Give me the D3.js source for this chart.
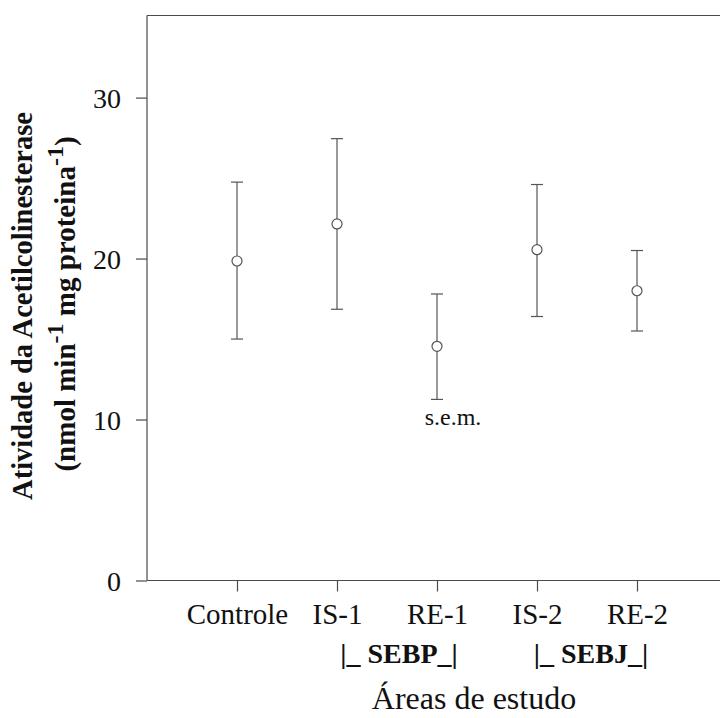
<!DOCTYPE html>
<html>
<head>
<meta charset="utf-8">
<script src="https://cdn.jsdelivr.net/npm/d3@7"></script>
<style>
  body { margin: 0; background: #fff; }
  svg { display: block; }
</style>
</head>
<body>
<div id="chart"></div>
<script>
// values
const categories = ["Controle", "IS-1", "RE-1", "IS-2", "RE-2"];
const means = [19.85, 22.15, 14.55, 20.55, 18.0];
const lower = [15.0, 16.85, 11.25, 16.4, 15.5];
const upper = [24.75, 27.45, 17.8, 24.6, 20.5];
const yTicks = [0, 10, 20, 30];
const groups = [
    {label: "|_ SEBP_|", at: 1.62},
    {label: "|_ SEBJ_|", at: 3.54}
];

const font = "'Liberation Serif', 'Times New Roman', serif";
const width = 720, height = 718;
const plot = {left: 147, top: 15.5, bottom: 580.5, right: 730};

const svg = d3.select("#chart").append("svg")
    .attr("width", width)
    .attr("height", height);

const y = d3.scaleLinear().domain([0, 35.1]).range([plot.bottom, plot.top]);
const x = d3.scaleLinear().domain([-0.9, 4.93]).range([plot.left, plot.right]);

const axisColor = "#4a4a4a";

// y axis
const yAxis = svg.append("g")
    .attr("transform", `translate(${plot.left},0)`)
    .call(d3.axisLeft(y).tickValues(yTicks).tickSize(11).tickPadding(15));
yAxis.select(".domain").attr("stroke", axisColor).attr("stroke-width", 1.2)
    .attr("d", `M0,${plot.top}V${plot.bottom}`);
yAxis.selectAll(".tick line").attr("stroke", axisColor).attr("stroke-width", 1.2);
yAxis.selectAll(".tick text")
    .attr("font-family", font).attr("font-size", 28).attr("fill", "#111")
    .attr("dy", "0.34em");

// x axis
const xAxis = svg.append("g")
    .attr("transform", `translate(0,${plot.bottom})`)
    .call(d3.axisBottom(x).tickValues(d3.range(categories.length))
        .tickFormat(i => categories[i]).tickSize(11).tickPadding(12));
xAxis.select(".domain").attr("stroke", axisColor).attr("stroke-width", 1.2)
    .attr("d", `M${plot.left},0H${width}`);
xAxis.selectAll(".tick line").attr("stroke", axisColor).attr("stroke-width", 1.2);
xAxis.selectAll(".tick text")
    .attr("font-family", font).attr("font-size", 29).attr("fill", "#111")
    .attr("dy", "0.7em");

// top frame line
svg.append("line")
    .attr("x1", plot.left).attr("x2", width)
    .attr("y1", plot.top).attr("y2", plot.top)
    .attr("stroke", axisColor).attr("stroke-width", 1.2);

// error bars
const bars = svg.append("g")
    .selectAll("g")
    .data(categories.map((c, i) => ({c, i, m: means[i], lo: lower[i], hi: upper[i]})))
    .join("g")
    .attr("stroke", "#555")
    .attr("stroke-width", 1.2)
    .attr("fill", "none");

bars.append("line")
    .attr("x1", d => x(d.i)).attr("x2", d => x(d.i))
    .attr("y1", d => y(d.lo)).attr("y2", d => y(d.hi));
bars.append("line")
    .attr("x1", d => x(d.i) - 6).attr("x2", d => x(d.i) + 6)
    .attr("y1", d => y(d.hi)).attr("y2", d => y(d.hi));
bars.append("line")
    .attr("x1", d => x(d.i) - 6).attr("x2", d => x(d.i) + 6)
    .attr("y1", d => y(d.lo)).attr("y2", d => y(d.lo));
bars.append("circle")
    .attr("cx", d => x(d.i)).attr("cy", d => y(d.m))
    .attr("r", 5)
    .attr("fill", "#fff");

// s.e.m. note under RE-1
svg.append("text")
    .attr("x", x(2) + 16)
    .attr("y", y(lower[2]) + 26)
    .attr("text-anchor", "middle")
    .attr("font-family", font).attr("font-size", 24).attr("fill", "#111")
    .text("s.e.m.");

// group labels
svg.append("g").selectAll("text")
    .data(groups)
    .join("text")
    .attr("x", d => x(d.at))
    .attr("y", 663)
    .attr("text-anchor", "middle")
    .attr("font-family", font).attr("font-size", 28).attr("font-weight", "bold")
    .attr("fill", "#111")
    .attr("xml:space", "preserve")
    .text(d => d.label);

// x title
svg.append("text")
    .attr("x", 474)
    .attr("y", 709)
    .attr("text-anchor", "middle")
    .attr("font-family", font).attr("font-size", 32).attr("fill", "#111")
    .text("Áreas de estudo");

// y title, two lines
const yt = svg.append("g")
    .attr("font-family", font).attr("font-weight", "bold").attr("fill", "#111")
    .attr("text-anchor", "middle");
yt.append("text")
    .attr("transform", "translate(32,306) rotate(-90)")
    .attr("font-size", 28.5)
    .text("Atividade da Acetilcolinesterase");
const l2 = yt.append("text")
    .attr("transform", "translate(75,304) rotate(-90)")
    .attr("font-size", 29);
l2.append("tspan").text("(nmol min");
l2.append("tspan").attr("dy", -12).attr("font-size", 24).text("-1");
l2.append("tspan").attr("dy", 12).text(" mg proteina");
l2.append("tspan").attr("dy", -12).attr("font-size", 24).text("-1");
l2.append("tspan").attr("dy", 12).text(")");
</script>
</body>
</html>
